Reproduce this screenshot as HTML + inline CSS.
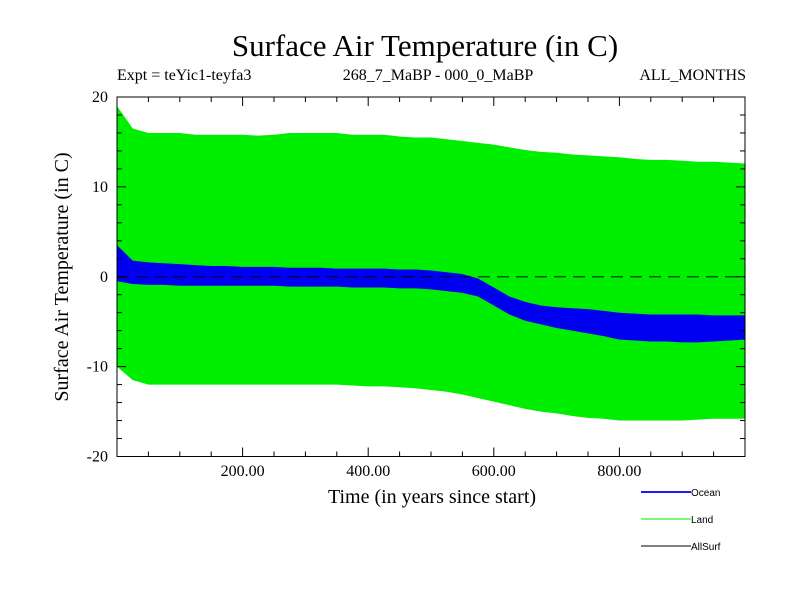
<!DOCTYPE html>
<html><head><meta charset="utf-8"><style>
body{margin:0;background:#fff}
svg{display:block;font-family:"Liberation Serif",serif}
</style></head><body>
<svg id="chart" width="800" height="600">
<text x="425" y="56" font-size="31" text-anchor="middle">Surface Air Temperature (in C)</text>
<text x="117" y="80" font-size="16">Expt = teYic1-teyfa3</text>
<text x="438" y="80" font-size="16" text-anchor="middle">268_7_MaBP - 000_0_MaBP</text>
<text x="746" y="80" font-size="16" text-anchor="end">ALL_MONTHS</text>
<text x="0" y="0" font-size="20" text-anchor="middle" transform="translate(68,277) rotate(-90)">Surface Air Temperature (in C)</text>
<text x="432" y="503" font-size="20" text-anchor="middle">Time (in years since start)</text>
<g id="plot"></g>
<g id="axes"></g>
<g font-family="Liberation Sans, sans-serif" font-size="10">
<g><line x1="641" y1="492" x2="691" y2="492" stroke="#1a1aff" stroke-width="2"/><text x="691" y="496">Ocean</text></g>
<g><line x1="641" y1="519" x2="691" y2="519" stroke="#00ee00" stroke-width="1"/><text x="691" y="523">Land</text></g>
<g><line x1="641" y1="546" x2="691" y2="546" stroke="#000" stroke-width="1"/><text x="691" y="550">AllSurf</text></g>
</g>
</svg>
<script>
const years=[0,25,50,75,100,125,150,175,200,225,250,275,300,325,350,375,400,425,450,475,500,525,550,575,600,625,650,675,700,725,750,775,800,825,850,875,900,925,950,975,1000];
const landUpper=[19,16.5,16,16,16,15.8,15.8,15.8,15.8,15.7,15.8,16,16,16,16,15.8,15.8,15.8,15.6,15.5,15.5,15.3,15.1,14.9,14.7,14.4,14.1,13.9,13.8,13.6,13.5,13.4,13.3,13.1,13,13,12.9,12.8,12.8,12.7,12.6];
const landLower=[-10,-11.5,-12,-12,-12,-12,-12,-12,-12,-12,-12,-12,-12,-12,-12,-12.1,-12.2,-12.2,-12.3,-12.4,-12.6,-12.8,-13.1,-13.5,-13.9,-14.3,-14.7,-15,-15.2,-15.5,-15.7,-15.8,-16,-16,-16,-16,-16,-15.9,-15.8,-15.8,-15.8];
const oceanUpper=[3.5,1.8,1.6,1.5,1.4,1.3,1.2,1.2,1.1,1.1,1.1,1.0,1.0,1.0,0.9,0.9,0.9,0.9,0.8,0.8,0.7,0.5,0.3,-0.2,-1.2,-2.2,-2.8,-3.2,-3.4,-3.5,-3.6,-3.8,-4,-4.1,-4.2,-4.2,-4.2,-4.2,-4.3,-4.3,-4.3];
const oceanLower=[-0.5,-0.8,-0.9,-0.9,-1.0,-1.0,-1.0,-1.0,-1.0,-1.0,-1.0,-1.1,-1.1,-1.1,-1.1,-1.2,-1.2,-1.2,-1.3,-1.3,-1.4,-1.6,-1.8,-2.2,-3.2,-4.2,-4.9,-5.3,-5.7,-6,-6.3,-6.6,-7,-7.1,-7.2,-7.2,-7.3,-7.3,-7.2,-7.1,-7];
const xTicks=[200,400,600,800];
const xTickLabels=["200.00","400.00","600.00","800.00"];
const yTicks=[-20,-10,0,10,20];
const yTickLabels=["-20","-10","0","10","20"];

const L=117,R=745,T=97,B=456.5;
const xs=v=>L+(v-0)/1000*(R-L);
const ys=v=>T+(20-v)/40*(B-T);
const NS="http://www.w3.org/2000/svg";
function mk(tag,attrs,parent){const e=document.createElementNS(NS,tag);for(const k in attrs)e.setAttribute(k,attrs[k]);parent.appendChild(e);return e;}
const plot=document.getElementById('plot'),axes=document.getElementById('axes');
function band(up,lo,color,name){
  let pts=years.map((y,i)=>xs(y)+','+ys(up[i]));
  for(let i=years.length-1;i>=0;i--)pts.push(xs(years[i])+','+ys(lo[i]));
  const p=mk('polygon',{points:pts.join(' '),fill:color},plot);
  
  
}
band(landUpper,landLower,'#00ee00','land-band');
band(oceanUpper,oceanLower,'#0000f0','ocean-band');
const z=mk('line',{x1:L,x2:R,y1:ys(0),y2:ys(0),stroke:'#000','stroke-dasharray':'12,7','stroke-width':1.3,opacity:0.75},plot);


const fr=mk('rect',{x:L,y:T,width:R-L,height:B-T,fill:'none',stroke:'#000','stroke-width':1},axes);


for(let v=50;v<1000;v+=50){
  const len=(v%200===0)?9:5;
  mk('line',{x1:xs(v),x2:xs(v),y1:B,y2:B-len,stroke:'#000'},axes);
  mk('line',{x1:xs(v),x2:xs(v),y1:T,y2:T+len,stroke:'#000'},axes);
}
for(let v=-18;v<20;v+=2){
  const len=(v%10===0)?9:5;
  mk('line',{x1:L,x2:L+len,y1:ys(v),y2:ys(v),stroke:'#000'},axes);
  mk('line',{x1:R,x2:R-len,y1:ys(v),y2:ys(v),stroke:'#000'},axes);
}
xTicks.forEach((v,i)=>{
  const t=mk('text',{x:xs(v),y:476,'font-size':16,'text-anchor':'middle'},axes);
  t.textContent=xTickLabels[i];
  
  
});
yTicks.forEach((v,i)=>{
  const t=mk('text',{x:108,y:ys(v)+5,'font-size':16,'text-anchor':'end'},axes);
  t.textContent=yTickLabels[i];
  
  
});
</script>
</body></html>
